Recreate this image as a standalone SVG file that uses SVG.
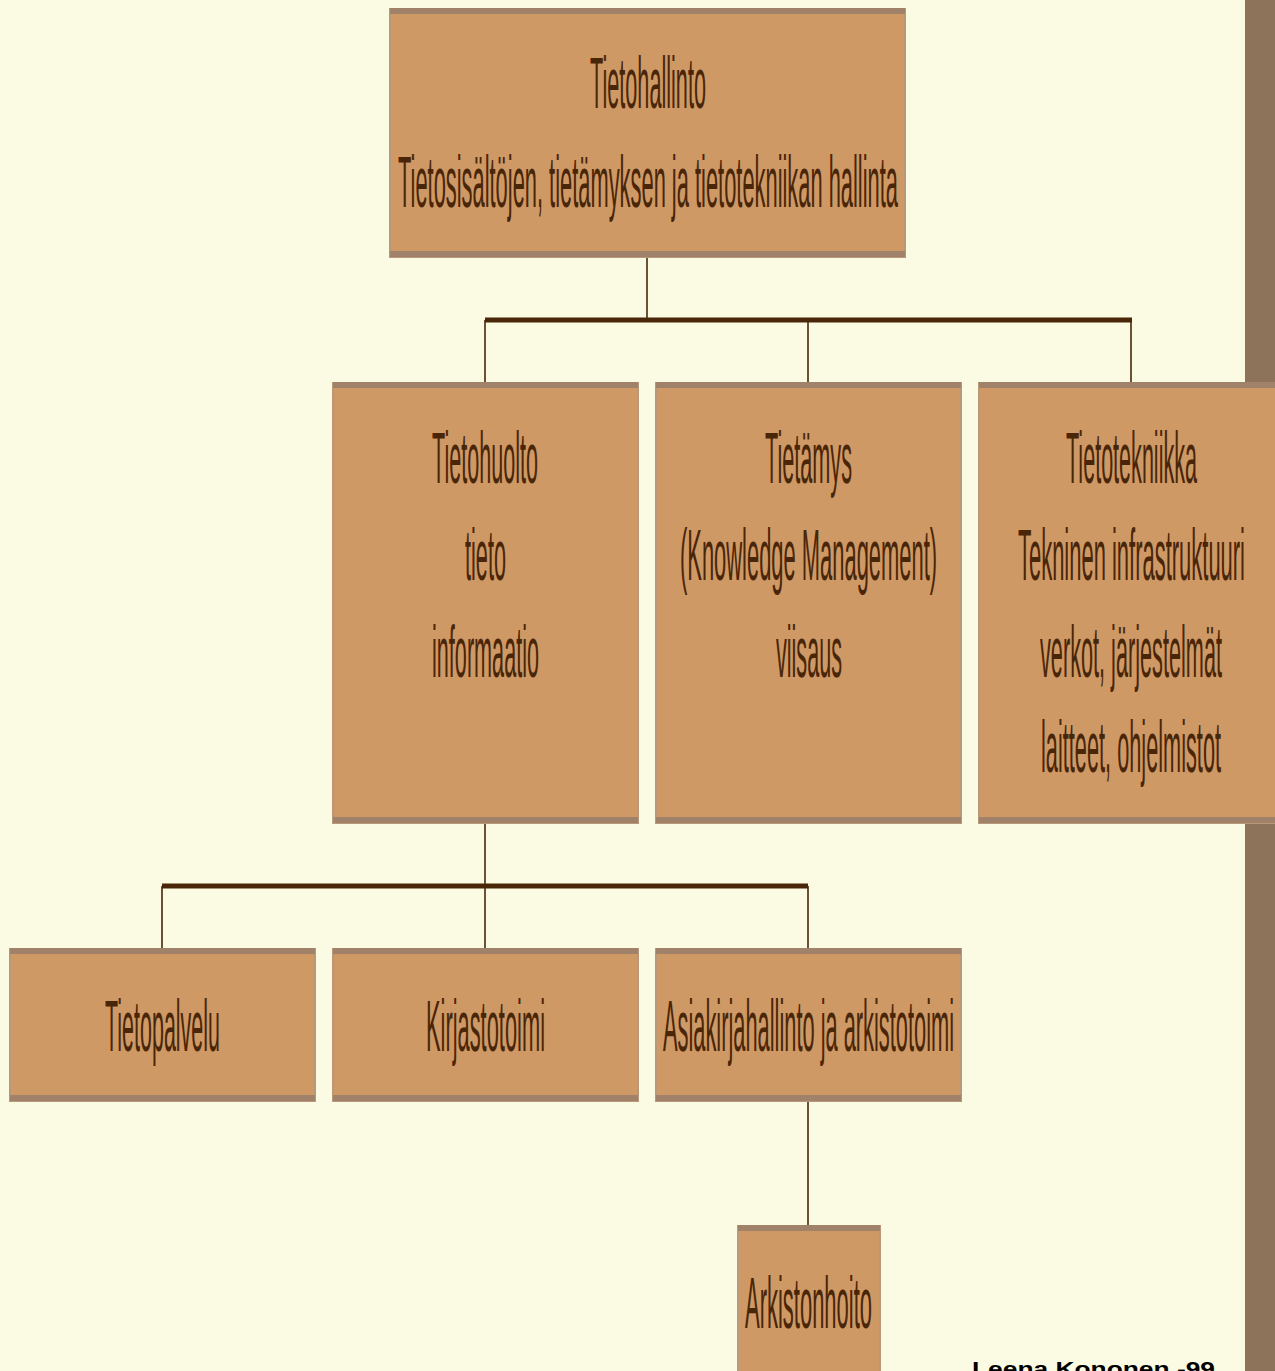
<svg xmlns="http://www.w3.org/2000/svg" width="1275" height="1371" viewBox="0 0 1275 1371">
<style>
.box{fill:#CF9966;}
.edge{fill:#A0826A;}
.side{fill:#B89878;}
.t{font-family:"Liberation Sans",Arial,sans-serif;font-size:73px;fill:#4A2608;transform:scale(0.28,1);transform-origin:0 0;}
.thin{stroke:#4A2608;stroke-width:1.6;fill:none;}
.thick{stroke:#4A2608;stroke-width:5;fill:none;}
</style>
<rect x="0" y="0" width="1275" height="1371" fill="#FBFAE3"/>
<rect x="1245" y="0" width="30" height="1371" fill="#8C735A"/>

<g id="connectors">
<line class="thin" x1="647" y1="257" x2="647" y2="320"/>
<line class="thick" x1="485" y1="320" x2="1132" y2="320"/>
<line class="thin" x1="485" y1="320" x2="485" y2="383"/>
<line class="thin" x1="808" y1="320" x2="808" y2="383"/>
<line class="thin" x1="1131" y1="320" x2="1131" y2="383"/>
<line class="thin" x1="485" y1="823" x2="485" y2="886"/>
<line class="thick" x1="162" y1="886" x2="808" y2="886"/>
<line class="thin" x1="162" y1="886" x2="162" y2="949"/>
<line class="thin" x1="485" y1="886" x2="485" y2="949"/>
<line class="thin" x1="808" y1="886" x2="808" y2="949"/>
<line class="thin" x1="808" y1="1101" x2="808" y2="1226"/>
</g>

<g id="n-tietohallinto">
<rect class="side" x="389" y="8" width="517" height="250"/>
<rect class="box" x="391" y="13" width="513" height="238"/>
<rect class="edge" x="390" y="8" width="515" height="6"/>
<rect class="edge" x="390" y="251" width="515" height="6"/>
<text class="t" x="2107.1" y="108" textLength="414.3" lengthAdjust="spacingAndGlyphs">Tietohallinto</text>
<text class="t" x="1421.4" y="207" textLength="1785.7" lengthAdjust="spacingAndGlyphs">Tietosisältöjen, tietämyksen ja tietotekniikan hallinta</text>
</g>

<g id="n-tietohuolto">
<rect class="side" x="332" y="382" width="307" height="442"/>
<rect class="box" x="334" y="387" width="303" height="431"/>
<rect class="edge" x="333" y="382" width="305" height="6"/>
<rect class="edge" x="333" y="817" width="305" height="6"/>
<text class="t" x="1542.9" y="483" textLength="378.6" lengthAdjust="spacingAndGlyphs">Tietohuolto</text>
<text class="t" x="1660.7" y="580" textLength="146.4" lengthAdjust="spacingAndGlyphs">tieto</text>
<text class="t" x="1542.9" y="677" textLength="382.1" lengthAdjust="spacingAndGlyphs">informaatio</text>
</g>

<g id="n-tietamys">
<rect class="side" x="655" y="382" width="307" height="442"/>
<rect class="box" x="657" y="387" width="303" height="431"/>
<rect class="edge" x="656" y="382" width="305" height="6"/>
<rect class="edge" x="656" y="817" width="305" height="6"/>
<text class="t" x="2732.1" y="483" textLength="310.7" lengthAdjust="spacingAndGlyphs">Tietämys</text>
<text class="t" x="2428.6" y="580" textLength="917.9" lengthAdjust="spacingAndGlyphs">(Knowledge Management)</text>
<text class="t" x="2771.4" y="677" textLength="235.7" lengthAdjust="spacingAndGlyphs">viisaus</text>
</g>

<g id="n-tietotekniikka">
<rect class="side" x="978" y="382" width="297" height="442"/>
<rect class="box" x="980" y="387" width="295" height="431"/>
<rect class="edge" x="979" y="382" width="296" height="6"/>
<rect class="edge" x="979" y="817" width="296" height="6"/>
<text class="t" x="3807.1" y="483" textLength="467.9" lengthAdjust="spacingAndGlyphs">Tietotekniikka</text>
<text class="t" x="3635.7" y="580" textLength="810.7" lengthAdjust="spacingAndGlyphs">Tekninen infrastruktuuri</text>
<text class="t" x="3714.3" y="677" textLength="650" lengthAdjust="spacingAndGlyphs">verkot, järjestelmät</text>
<text class="t" x="3717.9" y="772" textLength="642.9" lengthAdjust="spacingAndGlyphs">laitteet, ohjelmistot</text>
</g>

<g id="n-tietopalvelu">
<rect class="side" x="9" y="948" width="307" height="154"/>
<rect class="box" x="11" y="953" width="303" height="142"/>
<rect class="edge" x="10" y="948" width="305" height="6"/>
<rect class="edge" x="10" y="1095" width="305" height="6"/>
<text class="t" x="375" y="1051" textLength="410.7" lengthAdjust="spacingAndGlyphs">Tietopalvelu</text>
</g>

<g id="n-kirjastotoimi">
<rect class="side" x="332" y="948" width="307" height="154"/>
<rect class="box" x="334" y="953" width="303" height="142"/>
<rect class="edge" x="333" y="948" width="305" height="6"/>
<rect class="edge" x="333" y="1095" width="305" height="6"/>
<text class="t" x="1521.4" y="1051" textLength="425" lengthAdjust="spacingAndGlyphs">Kirjastotoimi</text>
</g>

<g id="n-asiakirjahallinto">
<rect class="side" x="655" y="948" width="307" height="154"/>
<rect class="box" x="657" y="953" width="303" height="142"/>
<rect class="edge" x="656" y="948" width="305" height="6"/>
<rect class="edge" x="656" y="1095" width="305" height="6"/>
<text class="t" x="2367.9" y="1051" textLength="1039.3" lengthAdjust="spacingAndGlyphs">Asiakirjahallinto ja arkistotoimi</text>
</g>

<g id="n-arkistonhoito">
<rect class="side" x="737" y="1225" width="144" height="150"/>
<rect class="box" x="739" y="1230" width="140" height="145"/>
<rect class="edge" x="738" y="1225" width="142" height="6"/>
<text class="t" x="2660.7" y="1328" textLength="453.6" lengthAdjust="spacingAndGlyphs">Arkistonhoito</text>
</g>

<text x="972" y="1376" font-family="'Liberation Sans',Arial,sans-serif" font-size="20" font-weight="bold" fill="#000000" textLength="243" lengthAdjust="spacingAndGlyphs">Leena Kononen -99</text>
</svg>
